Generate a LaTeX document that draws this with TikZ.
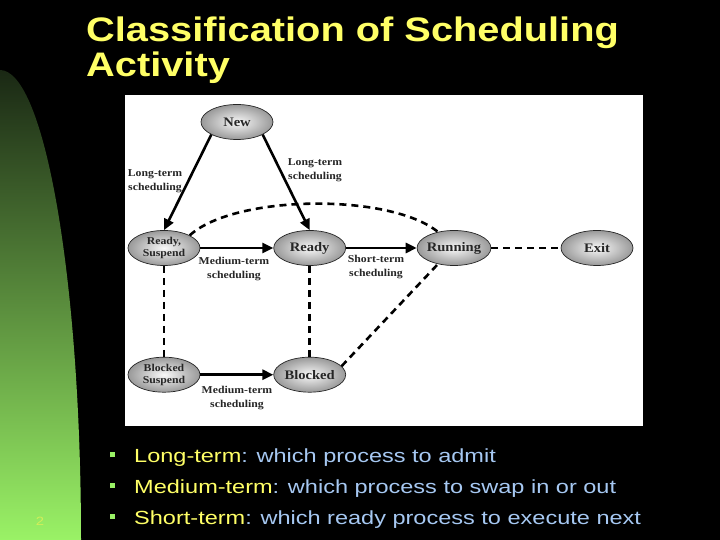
\documentclass[tikz,border=0pt]{standalone}
\usepackage{fontspec}
\setmainfont{Liberation Sans}
\newfontfamily\slidefont[FakeStretch=1.238]{Liberation Sans}
\newfontfamily\headfont[FakeStretch=1.17]{Liberation Sans}
\newfontfamily\figfont[FakeStretch=1.12]{Liberation Serif}
\usetikzlibrary{arrows.meta, positioning, shapes.geometric}
\definecolor{titleyel}{HTML}{FFFF66}
\definecolor{textblue}{HTML}{A6C8F2}
\definecolor{panelgreen}{HTML}{9AF266}
\definecolor{paneldark}{HTML}{1A2814}
\definecolor{pagenum}{HTML}{D2EE5A}
\tikzset{
  procstate/.style = {ellipse, draw=black!85, line width=0.7pt,
                      inner color=gray!5, outer color=gray!80,
                      minimum width=72pt, minimum height=35pt, inner sep=-1pt,
                      font=\figfont\bfseries\fontsize{13}{15}\selectfont,
                      text=black!85, align=center},
  procsmall/.style = {procstate, inner sep=0pt,
                      font=\figfont\bfseries\fontsize{10.5}{12}\selectfont},
  edgelbl/.style   = {font=\figfont\bfseries\fontsize{10.5}{14}\selectfont,
                      text=black!85, align=center, inner sep=1pt},
  flow/.style      = {-{Triangle[length=11pt,width=10pt]}, line width=2.6pt},
  dashlink/.style  = {line width=2.6pt, dash pattern=on 7pt off 5pt},
  titletxt/.style  = {font=\headfont\bfseries\fontsize{34}{35}\selectfont,
                      text=titleyel, inner sep=0pt},
  bullettxt/.style = {font=\slidefont\fontsize{19}{22}\selectfont,
                      text=textblue, inner sep=0pt},
  bulletsq/.style  = {fill=panelgreen, minimum size=5pt, inner sep=0pt},
}

\begin{document}
\begin{tikzpicture}[x=1pt, y=1pt]
    \useasboundingbox (0,0) rectangle (720,540);
    % slide background
    \fill[black] (0,0) rectangle (720,540);
    \shade[top color=paneldark, bottom color=panelgreen]
      (0,0) -- (0,470) arc[start angle=90, end angle=0, x radius=81, y radius=470] -- cycle;
    \node[font=\slidefont\fontsize{12}{12}\selectfont, text=pagenum] (pgno) at (40,19) {2};

    % title
    \node[titletxt, anchor=base west] (title1) at (86,498) {Classification of Scheduling};
    \node[titletxt, anchor=base west] (title2) at (86,463) {Activity};

    % figure panel
    \fill[white] (125,114) rectangle (643,445);

    % Row 1 : ready states
    \node[procsmall]                      (rs)   at (164,292) {Ready,\\Suspend};
    \node[procstate, right=73pt of rs]    (rdy)  {Ready};
    \node[procstate]                      (run)  at (454,292) {Running};
    \node[procstate]                      (exit) at (597,292) {Exit};
    \node[procstate]                      (new)  at (237,418) {New};
    % Row 2 : blocked states
    \node[procsmall, below=91pt of rs]    (bs)   {Blocked\\Suspend};
    \node[procstate, below=91pt of rdy]   (blk)  {Blocked};

    \draw[flow] (new.south west)--(rs.north);
    \draw[flow] (new.south east)--(rdy.north);
    \draw[flow] (rs)--(rdy);
    \draw[flow] (rdy)--(run);
    \draw[flow] (bs)--(blk);
    \draw[dashlink] (run)--(exit);
    \draw[dashlink] (rs)--(bs);
    \draw[dashlink] (rdy)--(blk);
    \draw[dashlink] (blk.15)--(run.225);
    \draw[dashlink] (rs.north east) .. controls +(45,41) and +(-48,39) .. (run.135);

    \node[edgelbl] (lt1) at (155,359) {Long-term\\scheduling};
    \node[edgelbl] (lt2) at (315,370) {Long-term\\scheduling};
    \node[edgelbl] (mt1) at (234,271) {Medium-term\\scheduling};
    \node[edgelbl] (st)  at (376,273) {Short-term\\scheduling};
    \node[edgelbl] (mt2) at (237,142) {Medium-term\\scheduling};

    % bullets
    \node[bulletsq] (sq1) at (112,85) {};
    \node[bulletsq] (sq2) at (112,54) {};
    \node[bulletsq] (sq3) at (112,23) {};
    \node[bullettxt, anchor=base west] (b1) at (134,77)
      {\textcolor{titleyel}{Long-term}: which process to admit};
    \node[bullettxt, anchor=base west] (b2) at (134,46)
      {\textcolor{titleyel}{Medium-term}: which process to swap in or out};
    \node[bullettxt, anchor=base west] (b3) at (134,15)
      {\textcolor{titleyel}{Short-term}: which ready process to execute next};
\end{tikzpicture}
\end{document}
